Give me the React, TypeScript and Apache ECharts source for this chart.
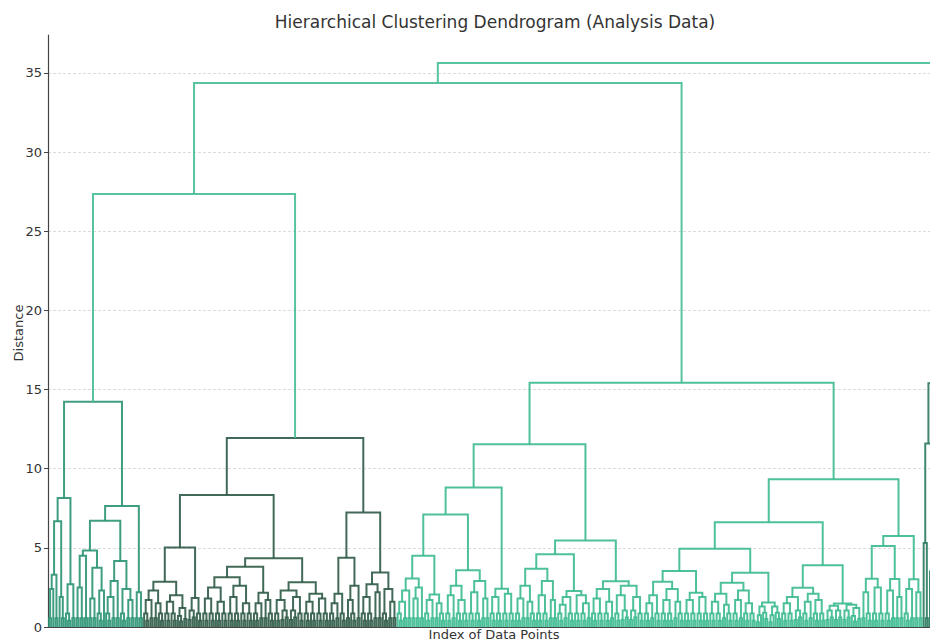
import React, { useEffect, useRef } from "react";
import * as echarts from "echarts";

type TreeNode = number | [number, TreeNode, TreeNode];

const TITLE = "Hierarchical Clustering Dendrogram (Analysis Data)";
const X_NAME = "Index of Data Points";
const Y_NAME = "Distance";
const Y_MAX = 37.4;
const Y_INTERVAL = 5;

// heights of the three links above the colour threshold (root first)
const TOP_HEIGHTS = [35.63, 34.37, 27.35];

// colours: left cluster, middle cluster, right cluster, far-right cluster, above threshold
const COLORS = ["#2a9473", "#2d5a46", "#3bba90", "#2b7a5f", "#46bd97"];

// small bottom clumps, referenced by their leaf count (0 = single leaf)
const CLUMPS: Record<number, TreeNode> = {
  1: 0,
  2: [0.55, 0, 0],
  3: [0.85, 0, [0.4, 0, 0]],
  4: [1.05, [0.45, 0, 0], [0.6, 0, 0]],
  5: [1.2, [0.7, 0, [0.35, 0, 0]], [0.5, 0, 0]],
  6: [1.3, [0.75, [0.3, 0, 0], 0], [0.9, 0, [0.5, 0, 0]]],
  7: [1.45, [0.9, [0.4, 0, 0], [0.55, 0, 0]], [0.8, 0, [0.45, 0, 0]]],
  8: [1.6, [1.0, [0.5, 0, 0], [0.65, 0, [0.3, 0, 0]]], [0.95, [0.4, 0, 0], 0]],
};

const LEFT_TREE: TreeNode = [14.23,
  [8.15,
    [6.68, [3.3, [2.4, 2, 1], 2], [1.9, 1, 2]],
    [2.7, 3, 2]],
  [7.64,
    [6.72,
      [4.84, [4.5, [2.5, 2, 2], 2], [3.75, [1.8, 2, 2], [2.3, 3, 1]]],
      [4.17, [2.9, [1.9, 3, 2], 2], [2.4, 3, [1.7, 2, 2]]]],
    [2.2, 2, 2]]];

const MIDDLE_TREE: TreeNode = [11.94,
  [8.34,
    [5.03,
      [2.86, [2.3, [1.7, 3, 2], [1.5, 2, 3]], [2.0, [1.6, 3, 3], 5]],
      [1.83, 4, 3]],
    [4.34,
      [3.81,
        [3.14, [2.5, [1.8, 3, 3], [1.6, 3, 3]], [2.6, [1.9, 3, 3], [1.5, 3, 3]]],
        [2.17, [1.5, 3, 2], [1.7, 2, 3]]],
      [2.82, [2.3, [1.7, 3, 4], [1.9, 4, 3]], [2.1, [1.6, 3, 3], [1.8, 3, 3]]]]],
  [7.24,
    [4.38, [2.1, [1.5, 3, 2], 3], [2.6, [1.7, 2, 3], 2]],
    [3.45, [2.7, [1.9, 3, 3], [2.2, 2, 2]], [2.4, 3, [1.6, 2, 2]]]]];

const RIGHT_TREE: TreeNode = [15.43,
  [11.54,
    [8.82,
      [7.1,
        [4.5,
          [3.07, [2.3, [1.6, 3, 2], 2], [2.5, [1.8, 2, 2], 2]],
          [2.06, [1.7, 3, 2], [1.5, 2, 3]]],
        [3.58, [2.6, [2.0, 3, 2], [1.7, 3, 3]], [2.9, [2.2, 3, 3], [1.8, 2, 2]]]],
      [2.42, [1.9, 3, 3], [2.1, 3, 3]]],
    [5.47,
      [4.59,
        [3.68, [2.6, [1.8, 3, 2], [1.6, 2, 3]], [2.9, [2.0, 3, 3], [1.7, 2, 2]]],
        [2.27, [1.9, [1.4, 3, 2], 3], [2.0, 3, [1.5, 3, 2]]]],
      [2.89, [2.4, [1.8, 3, 3], [1.6, 3, 2]], [2.6, [2.0, 3, 4], [1.9, 4, 3]]]]],
  [9.33,
    [6.61,
      [4.95,
        [3.54,
          [2.86, [2.0, [1.5, 3, 2], 3], [2.4, [1.7, 3, 3], [1.6, 2, 3]]],
          [2.17, [1.7, 3, 3], [1.9, 3, 3]]],
        [3.43,
          [2.8, [2.1, [1.6, 3, 3], [1.4, 2, 3]], [2.3, [1.7, 3, 2], [1.5, 3, 3]]],
          [1.54, 6, 6]]],
      [3.9,
        [2.48, [1.9, [1.5, 3, 3], 4], [2.1, [1.6, 3, 2], [1.7, 3, 3]]],
        [1.49, [1.35, 4, 4], [1.4, 4, 5]]]],
    [5.75,
      [5.12,
        [3.05, [2.2, 2, 3], [2.5, 3, 3]],
        [3.03, [2.3, 3, 2], [1.9, 2, 2]]],
      [3.01, [2.4, 3, 2], [2.2, 2, 2]]]]];

const FAR_RIGHT_TREE: TreeNode = [24.0,
  [15.4, [11.6, [5.3, 1, 2], [3.5, 1, 2]], [9.5, [4.2, 5, 5], 8]],
  [19.0, [10.5, 8, 8], [12.5, 8, 8]]];

// how many leaves of the far-right cluster fall inside the picture
const FAR_RIGHT_VISIBLE = 3.5;

type Pos = { x: number; h: number };
type Link = [number, number, number, number, number, number];

function buildLinks() {
  const links: Link[] = [];
  const state = { i: 0 };
  const walk = (node: TreeNode, color: number): Pos => {
    if (typeof node === "number") {
      if (node === 0) {
        const x = state.i + 0.5;
        state.i += 1;
        return { x, h: 0 };
      }
      return walk(CLUMPS[node], color);
    }
    const [h, l, r] = node;
    const a = walk(l, color);
    const b = walk(r, color);
    links.push([a.x, b.x, a.h, b.h, h, color]);
    return { x: (a.x + b.x) / 2, h };
  };
  const join = (a: Pos, b: Pos, h: number): Pos => {
    links.push([a.x, b.x, a.h, b.h, h, 4]);
    return { x: (a.x + b.x) / 2, h };
  };
  const left = walk(LEFT_TREE, 0);
  const mid = walk(MIDDLE_TREE, 1);
  const n27 = join(left, mid, TOP_HEIGHTS[2]);
  const right = walk(RIGHT_TREE, 2);
  const n34 = join(n27, right, TOP_HEIGHTS[1]);
  const visibleLeaves = state.i + FAR_RIGHT_VISIBLE;
  const far = walk(FAR_RIGHT_TREE, 3);
  join(n34, far, TOP_HEIGHTS[0]);
  return { links, visibleLeaves };
}

export default function App() {
  const ref = useRef<HTMLDivElement>(null);
  useEffect(() => {
    document.body.style.margin = "0";
    if (!ref.current) return;
    const chart = echarts.init(ref.current, undefined, { renderer: "svg" });
    const { links, visibleLeaves } = buildLinks();
    const font = "DejaVu Sans";
    chart.setOption({
      animation: false,
      backgroundColor: "#ffffff",
      grid: { left: 48, right: 0, top: 35, bottom: 14, containLabel: false },
      xAxis: {
        type: "value",
        min: 0,
        max: visibleLeaves,
        axisLine: { show: true, onZero: false, lineStyle: { color: "#444444", width: 1.2 } },
        axisTick: { show: false },
        axisLabel: { show: false },
        splitLine: { show: false },
      },
      yAxis: {
        type: "value",
        min: 0,
        max: Y_MAX,
        interval: Y_INTERVAL,
        axisLine: { show: true, lineStyle: { color: "#444444", width: 1.2 } },
        axisTick: { show: true, length: 4, lineStyle: { color: "#444444" } },
        axisLabel: {
          color: "#333333",
          fontSize: 13,
          fontFamily: font,
          margin: 6,
          showMaxLabel: false,
        },
        splitLine: {
          show: true,
          showMaxLine: false,
          lineStyle: { color: "#d2d2d2", type: [3, 2], width: 0.8 },
        },
      },
      graphic: [
        {
          type: "text",
          x: 495,
          y: 22,
          style: {
            text: TITLE,
            fontSize: 17,
            fontFamily: font,
            fill: "#333333",
            align: "center",
            verticalAlign: "middle",
          },
        },
        {
          type: "text",
          x: 18,
          y: 333,
          rotation: Math.PI / 2,
          style: {
            text: Y_NAME,
            fontSize: 13,
            fontFamily: font,
            fill: "#333333",
            align: "center",
            verticalAlign: "middle",
          },
        },
        {
          type: "text",
          x: 494,
          y: 628,
          style: {
            text: X_NAME,
            fontSize: 13,
            fontFamily: font,
            fill: "#333333",
            align: "center",
            verticalAlign: "top",
          },
        },
      ],
      series: [
        {
          type: "custom",
          data: links,
          encode: { x: [0, 1], y: [2, 3, 4] },
          renderItem: (params: any, api: any) => {
            const x1 = api.value(0);
            const x2 = api.value(1);
            const yl = api.value(2);
            const yr = api.value(3);
            const yt = api.value(4);
            const c = api.value(5);
            const p1 = api.coord([x1, yl]);
            const p2 = api.coord([x1, yt]);
            const p3 = api.coord([x2, yt]);
            const p4 = api.coord([x2, yr]);
            return {
              type: "polyline",
              shape: { points: [p1, p2, p3, p4] },
              style: {
                stroke: COLORS[c],
                fill: null,
                lineWidth: 2,
                opacity: 0.9,
              },
            };
          },
        },
      ],
    });
    return () => chart.dispose();
  }, []);
  return <div ref={ref} style={{ width: 930, height: 641 }} />;
}
